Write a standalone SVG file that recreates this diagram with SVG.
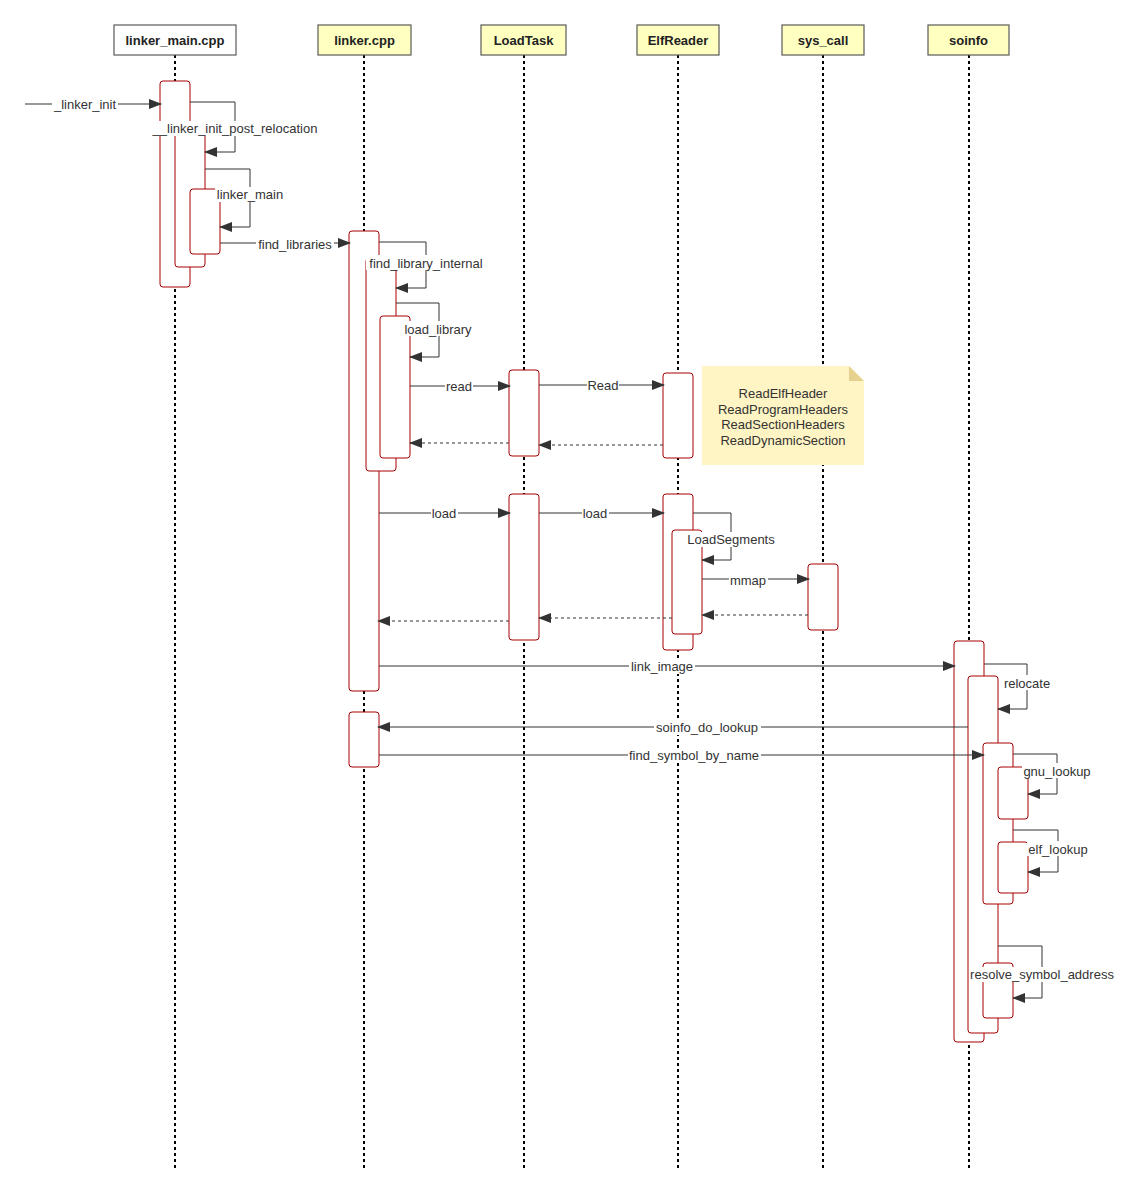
<svg xmlns="http://www.w3.org/2000/svg" width="1130" height="1200" viewBox="0 0 1130 1200">
<style>
.hdr{stroke:#5a5a5a;stroke-width:1.2}
.hdrtxt{font-family:"Liberation Sans",Arial,sans-serif;font-size:13px;font-weight:bold;fill:#222;text-anchor:middle}
.life{stroke:#000;stroke-width:2;stroke-dasharray:3 3;fill:none}
.act{fill:#fff;stroke:#a80000;stroke-width:1}
.msg{stroke:#333;stroke-width:1;fill:none;marker-end:url(#arr)}
.ret{stroke:#333;stroke-width:1;fill:none;stroke-dasharray:3 3;marker-end:url(#arr)}
.lbl{font-family:"Liberation Sans",Arial,sans-serif;font-size:13px;fill:#333;text-anchor:middle}
.bg{fill:#fff}
.note{font-family:"Liberation Sans",Arial,sans-serif;font-size:13px;fill:#333;text-anchor:middle}
</style>
<defs>
<marker id="arr" viewBox="0 0 13 10" refX="12" refY="5" markerWidth="13" markerHeight="10" markerUnits="userSpaceOnUse" orient="auto">
<path d="M0,0 L13,5 L0,10 Z" fill="#333"/>
</marker>
</defs>
<rect width="1130" height="1200" fill="#fff"/>

<g id="lifelines">
<line class="life" x1="175" y1="55" x2="175" y2="1170"/>
<line class="life" x1="364" y1="55" x2="364" y2="1170"/>
<line class="life" x1="524" y1="55" x2="524" y2="1170"/>
<line class="life" x1="678" y1="55" x2="678" y2="1170"/>
<line class="life" x1="823" y1="55" x2="823" y2="1170"/>
<line class="life" x1="969" y1="55" x2="969" y2="1170"/>
</g>

<g id="linker_main_cpp">
<rect class="hdr" x="114" y="25" width="122" height="30" fill="#fff"/>
<text class="hdrtxt" x="175" y="45">linker_main.cpp</text>
</g>
<g id="linker_cpp">
<rect class="hdr" x="318" y="25" width="93" height="30" fill="#ffffc0"/>
<text class="hdrtxt" x="364.5" y="45">linker.cpp</text>
</g>
<g id="LoadTask">
<rect class="hdr" x="481" y="25" width="85" height="30" fill="#ffffc0"/>
<text class="hdrtxt" x="523.5" y="45">LoadTask</text>
</g>
<g id="ElfReader">
<rect class="hdr" x="637" y="25" width="82" height="30" fill="#ffffc0"/>
<text class="hdrtxt" x="678" y="45">ElfReader</text>
</g>
<g id="sys_call">
<rect class="hdr" x="782" y="25" width="82" height="30" fill="#ffffc0"/>
<text class="hdrtxt" x="823" y="45">sys_call</text>
</g>
<g id="soinfo">
<rect class="hdr" x="928" y="25" width="81" height="30" fill="#ffffc0"/>
<text class="hdrtxt" x="968.5" y="45">soinfo</text>
</g>

<g id="activations">
<rect id="actA1" class="act" x="160" y="81" width="30" height="206" rx="3"/>
<rect id="actA2" class="act" x="175" y="128" width="30" height="139" rx="3"/>
<rect id="actA3" class="act" x="190" y="189" width="30" height="65" rx="3"/>
<rect id="actB1" class="act" x="349" y="231" width="30" height="460" rx="3"/>
<rect id="actB2" class="act" x="366" y="258" width="30" height="213" rx="3"/>
<rect id="actB3" class="act" x="380" y="316" width="30" height="142" rx="3"/>
<rect id="actB4" class="act" x="349" y="712" width="30" height="55" rx="3"/>
<rect id="actC1" class="act" x="509" y="370" width="30" height="86" rx="3"/>
<rect id="actC2" class="act" x="509" y="494" width="30" height="146" rx="3"/>
<rect id="actD1" class="act" x="663" y="373" width="30" height="85" rx="3"/>
<rect id="actD2" class="act" x="663" y="494" width="30" height="156" rx="3"/>
<rect id="actD3" class="act" x="672" y="530" width="30" height="104" rx="3"/>
<rect id="actE1" class="act" x="808" y="564" width="30" height="66" rx="3"/>
<rect id="actF1" class="act" x="954" y="641" width="30" height="401" rx="3"/>
<rect id="actF2" class="act" x="968" y="676" width="30" height="357" rx="3"/>
<rect id="actF3" class="act" x="983" y="743" width="30" height="161" rx="3"/>
<rect id="actF4" class="act" x="998" y="767" width="30" height="52" rx="3"/>
<rect id="actF5" class="act" x="998" y="842" width="30" height="51" rx="3"/>
<rect id="actF6" class="act" x="983" y="963" width="30" height="55" rx="3"/>
</g>

<g id="note">
<path d="M702,366 H849 L864,381 V465 H702 Z" fill="#fff4c3"/>
<path d="M849,366 V381 H864 Z" fill="#e6d28e"/>
<text class="note" x="783" y="397.5">ReadElfHeader</text>
<text class="note" x="783" y="413.5">ReadProgramHeaders</text>
<text class="note" x="783" y="429">ReadSectionHeaders</text>
<text class="note" x="783" y="444.5">ReadDynamicSection</text>
</g>

<g id="connectors">
<path class="msg" d="M25,104 H161"/>
<path class="msg" d="M190,102 H235 V152 H205"/>
<path class="msg" d="M205,169 H250 V227 H220"/>
<path class="msg" d="M220,243 H350"/>
<path class="msg" d="M379,242 H426 V288 H396"/>
<path class="msg" d="M396,303 H439 V357 H410"/>
<path class="msg" d="M410,386 H510"/>
<path class="msg" d="M539,385 H664"/>
<path class="ret" d="M509,443 H410"/>
<path class="ret" d="M663,445 H539"/>
<path class="msg" d="M379,513 H510"/>
<path class="msg" d="M539,513 H664"/>
<path class="msg" d="M693,513 H731 V560 H702"/>
<path class="msg" d="M702,579 H809"/>
<path class="ret" d="M808,615 H702"/>
<path class="ret" d="M672,618 H539"/>
<path class="ret" d="M509,621 H378"/>
<path class="msg" d="M379,666 H955"/>
<path class="msg" d="M984,664 H1027 V709 H998"/>
<path class="msg" d="M968,727 H378"/>
<path class="msg" d="M379,755 H984"/>
<path class="msg" d="M1013,754 H1057 V794 H1028"/>
<path class="msg" d="M1013,830 H1058 V872 H1028"/>
<path class="msg" d="M998,946 H1042 V998 H1013"/>

<g id="labels">
<rect class="bg" x="52" y="97" width="66" height="15"/>
<text class="lbl" x="85" y="108.5">_linker_init</text>
<rect class="bg" x="149" y="121" width="171" height="15"/>
<text class="lbl" x="235" y="133">__linker_init_post_relocation</text>
<rect class="bg" x="215" y="187" width="70" height="15"/>
<text class="lbl" x="250" y="199">linker_main</text>
<rect class="bg" x="256" y="236" width="78" height="15"/>
<text class="lbl" x="295" y="248.5">find_libraries</text>
<rect class="bg" x="366" y="255" width="120" height="15"/>
<text class="lbl" x="426" y="267.5">find_library_internal</text>
<rect class="bg" x="404" y="321" width="69" height="15"/>
<text class="lbl" x="438" y="333.5">load_library</text>
<rect class="bg" x="445" y="379" width="28" height="15"/>
<text class="lbl" x="459" y="390.5">read</text>
<rect class="bg" x="587" y="378" width="32" height="15"/>
<text class="lbl" x="603" y="389.5">Read</text>
<rect class="bg" x="431" y="506" width="27" height="15"/>
<text class="lbl" x="444" y="517.5">load</text>
<rect class="bg" x="582" y="506" width="27" height="15"/>
<text class="lbl" x="595" y="517.5">load</text>
<rect class="bg" x="685" y="532" width="92" height="15"/>
<text class="lbl" x="731" y="544">LoadSegments</text>
<rect class="bg" x="729" y="572" width="39" height="15"/>
<text class="lbl" x="748" y="584.5">mmap</text>
<rect class="bg" x="629" y="659" width="66" height="15"/>
<text class="lbl" x="662" y="670.5">link_image</text>
<rect class="bg" x="1002" y="675" width="51" height="15"/>
<text class="lbl" x="1027" y="687.5">relocate</text>
<rect class="bg" x="654" y="720" width="107" height="15"/>
<text class="lbl" x="707" y="731.5">soinfo_do_lookup</text>
<rect class="bg" x="628" y="748" width="133" height="15"/>
<text class="lbl" x="694" y="759.5">find_symbol_by_name</text>
<rect class="bg" x="1022" y="763" width="70" height="15"/>
<text class="lbl" x="1057" y="775.5">gnu_lookup</text>
<rect class="bg" x="1027" y="841" width="63" height="15"/>
<text class="lbl" x="1058" y="853.5">elf_lookup</text>
<rect class="bg" x="969" y="967" width="147" height="15"/>
<text class="lbl" x="1042" y="979">resolve_symbol_address</text>
</g>
</g>
</svg>
